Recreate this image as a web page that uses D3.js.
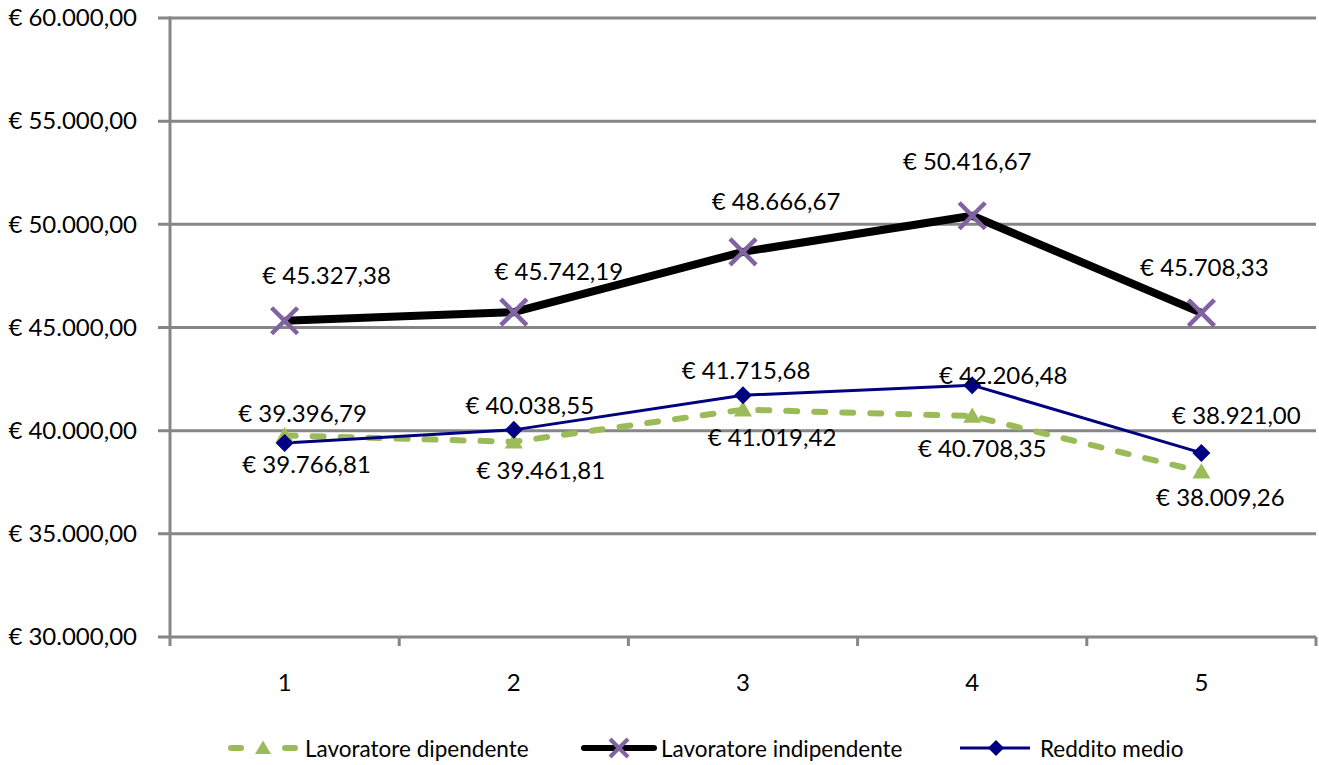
<!DOCTYPE html>
<html><head><meta charset="utf-8">
<script src="https://cdn.jsdelivr.net/npm/d3@7/dist/d3.min.js"></script>
<style>
html,body{margin:0;padding:0;background:#fff;}
svg text{font-family:Lato,"Open Sans",sans-serif;fill:#000;}
</style></head>
<body>
<svg id="c" width="1319" height="765"></svg>
<script>
const categories = ["1","2","3","4","5"];
const seriesNames = ["Lavoratore dipendente","Lavoratore indipendente","Reddito medio"];
const dipendente = [39766.81, 39461.81, 41019.42, 40708.35, 38009.26];
const indipendente = [45327.38, 45742.19, 48666.67, 50416.67, 45708.33];
const redditoMedio = [39396.79, 40038.55, 41715.68, 42206.48, 38921.00];
const yTicks = [30000, 35000, 40000, 45000, 50000, 55000, 60000];

// label placement nudges (px) relative to each point
const nudgeDip = [[22,28],[27,28],[29,27],[10,31],[19,25]];
const nudgeInd = [[42,-46],[45,-42],[33,-51],[-5,-55],[3,-46]];
const nudgeRed = [[18,-31],[16,-25],[3,-26],[31,-11],[35,-38]];

const FS = 24;
const FSL = 22.5;
const fmt = v => "€ " + d3.formatLocale({decimal:",",thousands:".",grouping:[3],currency:["€",""]}).format(",.2f")(v);

const svg = d3.select("#c");
const L = 170, R = 1316, T = 18, B = 637;
const x = d3.scaleBand().domain(categories).range([L, R]);
const y = d3.scaleLinear().domain([30000, 60000]).range([B, T]);
const grid = "#868686";

// gridlines
svg.append("g").selectAll("line").data(yTicks).join("line")
  .attr("x1", L - 12).attr("x2", R).attr("y1", d => y(d)).attr("y2", d => y(d))
  .attr("stroke", grid).attr("stroke-width", 3);
// y axis line
svg.append("line").attr("x1", L).attr("x2", L).attr("y1", T - 1.5).attr("y2", B + 9)
  .attr("stroke", grid).attr("stroke-width", 3);
// x ticks at band boundaries
const bounds = categories.map(c => x(c)).concat([R]);
svg.append("g").selectAll("line").data(bounds.slice(1)).join("line")
  .attr("x1", d => d).attr("x2", d => d).attr("y1", B).attr("y2", B + 9)
  .attr("stroke", grid).attr("stroke-width", 3);

// y labels
const yAxis = d3.axisLeft(y).tickValues(yTicks).tickFormat(d => fmt(d)).tickSize(0).tickPadding(33);
const ya = svg.append("g").attr("transform", `translate(${L},0)`).call(yAxis);
ya.select(".domain").remove();
ya.selectAll("text").attr("font-size", FS).attr("font-family", "Lato").attr("fill", "#000");

// x labels
const xAxis = d3.axisBottom(x).tickSize(0).tickPadding(37);
const xa = svg.append("g").attr("transform", `translate(0,${B})`).call(xAxis);
xa.select(".domain").remove();
xa.selectAll("text").attr("font-size", FS).attr("font-family", "Lato").attr("fill", "#000");

const cx = (d, i) => x(categories[i]) + x.bandwidth() / 2;
const line = d3.line().x((d, i) => cx(d, i)).y(d => y(d));

// series lines
svg.append("path").datum(dipendente).attr("d", line).attr("fill", "none")
  .attr("stroke", "#9BBB59").attr("stroke-width", 6).attr("stroke-dasharray", "11,17").attr("stroke-linecap", "round");
svg.append("path").datum(indipendente).attr("d", line).attr("fill", "none")
  .attr("stroke", "#000").attr("stroke-width", 8).attr("stroke-linejoin", "round");
svg.append("path").datum(redditoMedio).attr("d", line).attr("fill", "none")
  .attr("stroke", "#000080").attr("stroke-width", 3);

// markers
const triPath = s => `M0,${-s * 0.95}L${s},${s * 0.75}L${-s},${s * 0.75}Z`;
const diaPath = s => `M0,${-s}L${s},0L0,${s}L${-s},0Z`;
svg.append("g").selectAll("path").data(dipendente).join("path")
  .attr("d", triPath(9)).attr("transform", (d, i) => `translate(${cx(d, i)},${y(d)})`).attr("fill", "#9BBB59");
svg.append("g").selectAll("g").data(indipendente).join("g")
  .attr("transform", (d, i) => `translate(${cx(d, i)},${y(d)})`)
  .each(function () {
    const g = d3.select(this);
    g.append("line").attr("x1", -13).attr("y1", -13).attr("x2", 13).attr("y2", 13);
    g.append("line").attr("x1", -13).attr("y1", 13).attr("x2", 13).attr("y2", -13);
    g.selectAll("line").attr("stroke", "#8064A2").attr("stroke-width", 4.5);
  });
svg.append("g").selectAll("path").data(redditoMedio).join("path")
  .attr("d", diaPath(9)).attr("transform", (d, i) => `translate(${cx(d, i)},${y(d)})`).attr("fill", "#000080");

// data labels
function labels(data, nudges) {
  svg.append("g").selectAll("text").data(data).join("text")
    .attr("x", (d, i) => cx(d, i) + nudges[i][0])
    .attr("y", (d, i) => y(d) + nudges[i][1])
    .attr("text-anchor", "middle").attr("dominant-baseline", "central")
    .attr("font-size", FS).text(d => fmt(d));
}
labels(dipendente, nudgeDip);
labels(indipendente, nudgeInd);
labels(redditoMedio, nudgeRed);

// legend
const ly = 748;
const lg = svg.append("g");
const legendX = [228, 584, 960];
// dipendente
lg.append("line").attr("x1", legendX[0] + 3).attr("x2", legendX[0] + 67).attr("y1", ly).attr("y2", ly)
  .attr("stroke", "#9BBB59").attr("stroke-width", 6).attr("stroke-dasharray", "10,44").attr("stroke-linecap", "round");
lg.append("path").attr("d", triPath(8)).attr("transform", `translate(${legendX[0] + 35},${ly})`).attr("fill", "#9BBB59");
// indipendente
lg.append("line").attr("x1", legendX[1]).attr("x2", legendX[1] + 70).attr("y1", ly).attr("y2", ly)
  .attr("stroke", "#000").attr("stroke-width", 6).attr("stroke-linecap", "round");
const xg = lg.append("g").attr("transform", `translate(${legendX[1] + 35},${ly})`);
xg.append("line").attr("x1", -9).attr("y1", -9).attr("x2", 9).attr("y2", 9);
xg.append("line").attr("x1", -9).attr("y1", 9).attr("x2", 9).attr("y2", -9);
xg.selectAll("line").attr("stroke", "#8064A2").attr("stroke-width", 4);
// reddito
lg.append("line").attr("x1", legendX[2]).attr("x2", legendX[2] + 70).attr("y1", ly).attr("y2", ly)
  .attr("stroke", "#000080").attr("stroke-width", 3);
lg.append("path").attr("d", diaPath(8)).attr("transform", `translate(${legendX[2] + 36},${ly})`).attr("fill", "#000080");

lg.selectAll("text.lt").data(seriesNames).join("text").attr("class", "lt")
  .attr("x", (d, i) => legendX[i] + [77, 77, 80][i]).attr("y", ly)
  .attr("dominant-baseline", "central").attr("font-size", FSL).text(d => d);
</script>
</body></html>
